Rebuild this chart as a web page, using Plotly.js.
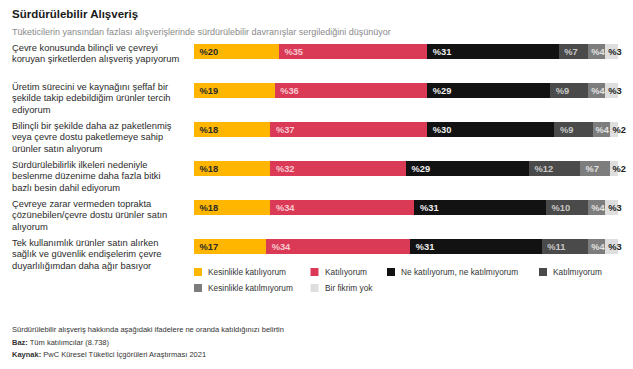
<!DOCTYPE html>
<html>
<head>
<meta charset="utf-8">
<script src="https://cdn.plot.ly/plotly-3.0.1.min.js"></script>
<style>html,body{margin:0;padding:0;background:#fff;}#chart{width:633px;height:369px;}</style>
</head>
<body>
<div id="chart"></div>
<script>
// ---- data ----
var categories = [
  "Çevre konusunda bilinçli ve çevreyi<br>koruyan şirketlerden alışveriş yapıyorum",
  "Üretim sürecini ve kaynağını şeffaf bir<br>şekilde takip edebildiğim ürünler tercih<br>ediyorum",
  "Bilinçli bir şekilde daha az paketlenmiş<br>veya çevre dostu paketlemeye sahip<br>ürünler satın alıyorum",
  "Sürdürülebilirlik ilkeleri nedeniyle<br>beslenme düzenime daha fazla bitki<br>bazlı besin dahil ediyorum",
  "Çevreye zarar vermeden toprakta<br>çözünebilen/çevre dostu ürünler satın<br>alıyorum",
  "Tek kullanımlık ürünler satın alırken<br>sağlık ve güvenlik endişelerim çevre<br>duyarlılığımdan daha ağır basıyor"
];
var seriesNames = ["Kesinlikle katılıyorum", "Katılıyorum", "Ne katılıyorum, ne katılmıyorum", "Katılmıyorum", "Kesinlikle katılmıyorum", "Bir fikrim yok"];
var kesinlikleKatiliyorum = [20, 19, 18, 18, 18, 17];
var katiliyorum           = [35, 36, 37, 32, 34, 34];
var neKatiliyorumNe       = [31, 29, 30, 29, 31, 31];
var katilmiyorum          = [7, 9, 9, 12, 10, 11];
var kesinlikleKatilmiyorum= [4, 4, 4, 7, 4, 4];
var birFikrimYok          = [3, 3, 2, 2, 3, 3];
var seriesValues = [kesinlikleKatiliyorum, katiliyorum, neKatiliyorumNe, katilmiyorum, kesinlikleKatilmiyorum, birFikrimYok];

var title = "Sürdürülebilir Alışveriş";
var subtitle = "Tüketicilerin yansından fazlası alışverişlerinde sürdürülebilir davranışlar sergilediğini düşünüyor";
var footerLines = [
  "Sürdürülebilir alışveriş hakkında aşağıdaki ifadelere ne oranda katıldığınızı belirtin",
  "<b>Baz:</b> Tüm katılımcılar (8.738)",
  "<b>Kaynak:</b> PwC Küresel Tüketici İçgörüleri Araştırması 2021"
];

// ---- style ----
var FONT = "Liberation Sans, Arial, Helvetica, sans-serif";
var colors = ["#FFB600", "#DB3A56", "#121212", "#4A4A4A", "#7D7D7D", "#DEDEDE"];
var textColors = ["#2a2a2a", "#F6C9D0", "#EEEEEE", "#C8C8C8", "#E2E2E2", "#222222"];

var W = 633, H = 369;
var M = {l: 194, r: 15, t: 32, b: 103};
var PW = W - M.l - M.r, PH = H - M.t - M.b;
function px2x(px) { return (px - M.l) / PW; }
function py2y(py) { return (H - M.b - py) / PH; }

var traces = seriesValues.map(function (vals, s) {
  return {
    type: "bar",
    orientation: "h",
    name: seriesNames[s],
    y: categories,
    x: vals,
    width: 0.4,
    marker: {color: colors[s], line: {width: 0}},
    text: vals.map(function (v) { return (v >= 7 ? "\u00a0" : "") + "%" + v; }),
    textposition: "inside",
    insidetextanchor: "start",
    textangle: 0,
    constraintext: "none",
    cliponaxis: false,
    insidetextfont: {family: FONT, size: 9.3, color: textColors[s], weight: "bold"},
    hoverinfo: "skip",
    showlegend: false
  };
});

var annotations = [];
var shapes = [];

// title & subtitle
annotations.push({xref: "paper", yref: "paper", x: px2x(10), y: py2y(14), xanchor: "left", yanchor: "middle",
  text: "<b>" + title + "</b>", showarrow: false, font: {family: FONT, size: 11.5, color: "#1a1a1a"}});
annotations.push({xref: "paper", yref: "paper", x: px2x(10), y: py2y(32), xanchor: "left", yanchor: "middle",
  text: subtitle, showarrow: false, font: {family: FONT, size: 9, color: "#8a8a8a"}});

// category labels (one annotation per line)
categories.forEach(function (c, i) {
  c.split("<br>").forEach(function (line, j) {
    annotations.push({xref: "paper", yref: "y", x: px2x(10), y: i, xanchor: "left", yanchor: "middle",
      yshift: 4 - j * 11.6, text: line, showarrow: false, font: {family: FONT, size: 9.35, color: "#2b2b2b"}});
  });
});

// legend (manual)
var legendSlots = [[194, 272], [310.5, 272], [387, 272], [539, 272], [194, 288], [310.5, 288]];
seriesNames.forEach(function (n, s) {
  var p = legendSlots[s];
  shapes.push({type: "rect", xref: "paper", yref: "paper", x0: px2x(p[0]), x1: px2x(p[0] + 8),
    y0: py2y(p[1] + 4), y1: py2y(p[1] - 4), fillcolor: colors[s], line: {width: 0}});
  annotations.push({xref: "paper", yref: "paper", x: px2x(p[0] + 12), y: py2y(p[1]), xanchor: "left", yanchor: "middle",
    text: n, showarrow: false, font: {family: FONT, size: 8.3, color: "#333"}});
});

// footer
var footerY = [329, 342, 354];
footerLines.forEach(function (t, k) {
  annotations.push({xref: "paper", yref: "paper", x: px2x(10), y: py2y(footerY[k]), xanchor: "left", yanchor: "middle",
    text: t, showarrow: false, font: {family: FONT, size: 7.5, color: "#333"}});
});

var layout = {
  width: W, height: H,
  margin: M,
  barmode: "stack",
  bargap: 0.6,
  showlegend: false,
  paper_bgcolor: "#fff", plot_bgcolor: "#fff",
  font: {family: FONT},
  xaxis: {range: [0, 100], showgrid: false, zeroline: false, showticklabels: false, ticks: "", fixedrange: true},
  yaxis: {type: "category", autorange: "reversed", showgrid: false, zeroline: false, showticklabels: false, ticks: "", fixedrange: true},
  annotations: annotations,
  shapes: shapes,
  hovermode: false
};

Plotly.newPlot("chart", traces, layout, {staticPlot: true, displayModeBar: false});
</script>
</body>
</html>
